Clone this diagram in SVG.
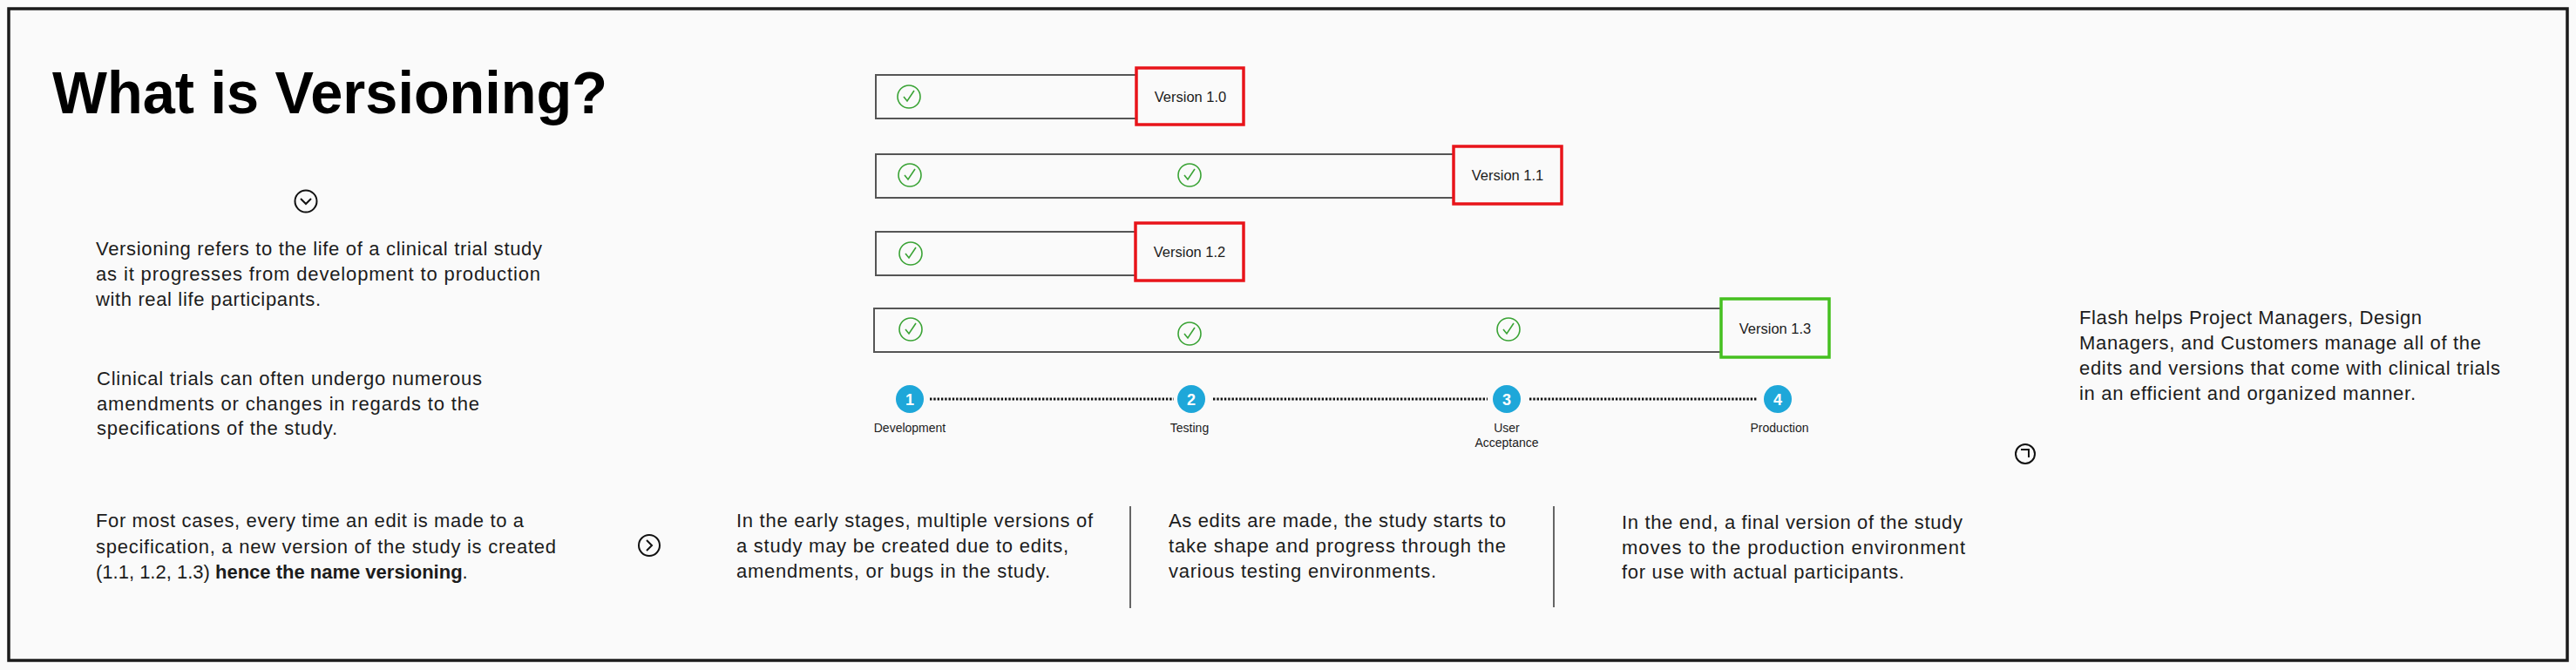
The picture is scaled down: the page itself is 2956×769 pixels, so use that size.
<svg xmlns="http://www.w3.org/2000/svg" width="2956" height="769" viewBox="0 0 2956 769">
<style>
text{font-family:"Liberation Sans",Arial,sans-serif;fill:#1c1c1c}
.title{font-size:68px;font-weight:bold;fill:#000}
.body{font-size:22px}
.bold{font-weight:bold}
.ver{font-size:16.5px;text-anchor:middle}
.lbl{font-size:14px;text-anchor:middle}
.num{font-size:18px;font-weight:bold;fill:#fff;text-anchor:middle}
.bar{fill:#fafafa;stroke:#555;stroke-width:2}
.red{fill:#fafafa;stroke:#e8141a;stroke-width:3.5}
.green{fill:#fafafa;stroke:#45c020;stroke-width:3.5}
.chk{fill:none;stroke:#3aa335;stroke-width:1.6}
.step{fill:#1ea7d9}
.dots{stroke:#111;stroke-width:3;stroke-dasharray:2.4 1.9;fill:none}
.icon{fill:none;stroke:#111;stroke-width:2}
.div{stroke:#333;stroke-width:1.5}
</style>
<defs>
<g id="check"><circle r="13" class="chk"/><path d="M-6,0 L-2,5 L6,-7" class="chk"/></g>
</defs>
<rect x="0" y="0" width="2956" height="769" fill="#fafafa"/>
<rect x="10" y="10" width="2936" height="748" fill="none" stroke="#1a1a1a" stroke-width="3.5"/>

<g id="title"><text class="title" x="60" y="130" textLength="637" lengthAdjust="spacingAndGlyphs">What is Versioning?</text></g>

<g id="icon-down"><circle cx="351" cy="231" r="12.5" class="icon"/><path d="M345,228 L351,234 L357,228" class="icon"/></g>

<g id="para1">
<text class="body" x="110" y="293" textLength="512">Versioning refers to the life of a clinical trial study</text>
<text class="body" x="110" y="322" textLength="510">as it progresses from development to production</text>
<text class="body" x="110" y="351" textLength="258">with real life participants.</text>
</g>
<g id="para2">
<text class="body" x="111" y="442" textLength="442">Clinical trials can often undergo numerous</text>
<text class="body" x="111" y="471" textLength="439">amendments or changes in regards to the</text>
<text class="body" x="111" y="499" textLength="276">specifications of the study.</text>
</g>
<g id="para3">
<text class="body" x="110" y="605" textLength="491">For most cases, every time an edit is made to a</text>
<text class="body" x="110" y="635" textLength="528">specification, a new version of the study is created</text>
<text class="body" x="110" y="664">(1.1, 1.2, 1.3) <tspan class="bold">hence the name versioning</tspan>.</text>
</g>
<g id="icon-right"><circle cx="745" cy="626" r="12" class="icon"/><path d="M742,620 L748,626 L742,632" class="icon"/></g>

<g id="version-1-0">
<rect x="1005" y="86" width="299" height="50" class="bar"/>
<use href="#check" x="1043" y="111"/>
<rect x="1304" y="78" width="123" height="65" class="red"/>
<text class="ver" x="1366" y="117">Version 1.0</text>
</g>
<g id="version-1-1">
<rect x="1005" y="177" width="663" height="50" class="bar"/>
<use href="#check" x="1044" y="201"/>
<use href="#check" x="1365" y="201"/>
<rect x="1668" y="168" width="124" height="66" class="red"/>
<text class="ver" x="1730" y="207">Version 1.1</text>
</g>
<g id="version-1-2">
<rect x="1005" y="266" width="298" height="50" class="bar"/>
<use href="#check" x="1045" y="291"/>
<rect x="1303" y="256" width="124" height="66" class="red"/>
<text class="ver" x="1365" y="295">Version 1.2</text>
</g>
<g id="version-1-3">
<rect x="1003" y="354" width="972" height="50" class="bar"/>
<use href="#check" x="1045" y="378"/>
<use href="#check" x="1365" y="383"/>
<use href="#check" x="1731" y="378"/>
<rect x="1975" y="343" width="124" height="67" class="green"/>
<text class="ver" x="2037" y="383">Version 1.3</text>
</g>

<g id="connectors">
<line x1="1067" y1="458" x2="1347" y2="458" class="dots"/>
<line x1="1392" y1="458" x2="1707" y2="458" class="dots"/>
<line x1="1755" y1="458" x2="2017" y2="458" class="dots"/>
</g>

<g id="step-1"><circle cx="1044" cy="458" r="16" class="step"/><text class="num" x="1044" y="464.5">1</text><text class="lbl" x="1044" y="496">Development</text></g>
<g id="step-2"><circle cx="1367" cy="458" r="16" class="step"/><text class="num" x="1367" y="464.5">2</text><text class="lbl" x="1365" y="496">Testing</text></g>
<g id="step-3"><circle cx="1729" cy="458" r="16" class="step"/><text class="num" x="1729" y="464.5">3</text><text class="lbl" x="1729" y="496">User</text><text class="lbl" x="1729" y="513">Acceptance</text></g>
<g id="step-4"><circle cx="2040" cy="458" r="16" class="step"/><text class="num" x="2040" y="464.5">4</text><text class="lbl" x="2042" y="496">Production</text></g>

<g id="text-early">
<text class="body" x="845" y="605" textLength="409">In the early stages, multiple versions of</text>
<text class="body" x="845" y="634" textLength="381">a study may be created due to edits,</text>
<text class="body" x="845" y="663" textLength="360">amendments, or bugs in the study.</text>
</g>
<line x1="1297" y1="581" x2="1297" y2="698" class="div"/>
<g id="text-edits">
<text class="body" x="1341" y="605" textLength="387">As edits are made, the study starts to</text>
<text class="body" x="1341" y="634" textLength="387">take shape and progress through the</text>
<text class="body" x="1341" y="663" textLength="307">various testing environments.</text>
</g>
<line x1="1783" y1="581" x2="1783" y2="697" class="div"/>
<g id="text-end">
<text class="body" x="1861" y="607" textLength="391">In the end, a final version of the study</text>
<text class="body" x="1861" y="636" textLength="394">moves to the production environment</text>
<text class="body" x="1861" y="664" textLength="324">for use with actual participants.</text>
</g>

<g id="text-flash">
<text class="body" x="2386" y="372" textLength="393">Flash helps Project Managers, Design</text>
<text class="body" x="2386" y="401" textLength="461">Managers, and Customers manage all of the</text>
<text class="body" x="2386" y="430" textLength="483">edits and versions that come with clinical trials</text>
<text class="body" x="2386" y="459" textLength="386">in an efficient and organized manner.</text>
</g>
<g id="icon-corner"><circle cx="2324" cy="521" r="11" class="icon"/><path d="M2319,516 L2328,516 L2328,525" class="icon"/></g>
</svg>
